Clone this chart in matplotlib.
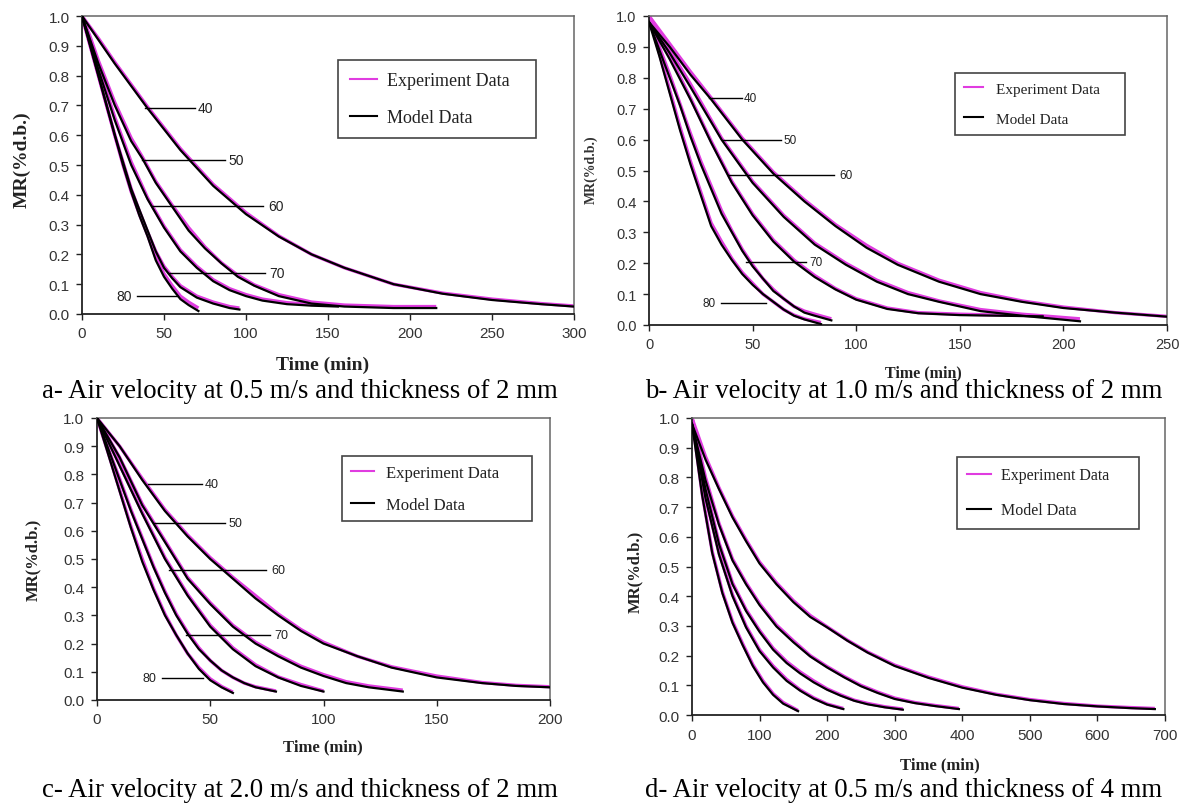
import numpy as np
import matplotlib
matplotlib.use('Agg')
import matplotlib.pyplot as plt
from matplotlib.lines import Line2D
from matplotlib.ticker import FormatStrFormatter

W, H = 1185, 804
SERIF = 'Liberation Serif'
SANS = 'Liberation Sans'
PINK = '#e03ce0'

temps = ['40', '50', '60', '70', '80']

# ---- panel a : 0.5 m/s, 2 mm ----
a_time_40 = [0, 10, 20, 40, 60, 80, 100, 120, 140, 160, 190, 220, 250, 280, 300]
a_model_40 = [1.0, 0.92, 0.84, 0.69, 0.55, 0.43, 0.335, 0.26, 0.2, 0.155, 0.1, 0.068, 0.047, 0.033, 0.025]
a_exp_40 = [1.0, 0.925, 0.845, 0.695, 0.555, 0.435, 0.34, 0.262, 0.2, 0.155, 0.1, 0.07, 0.05, 0.035, 0.027]
a_time_50 = [0, 5, 10, 20, 30, 37, 45, 55, 65, 75, 85, 95, 105, 120, 140, 160, 190, 216]
a_model_50 = [1.0, 0.92, 0.84, 0.7, 0.58, 0.52, 0.44, 0.36, 0.28, 0.22, 0.17, 0.125, 0.095, 0.06, 0.035, 0.025, 0.02, 0.02]
a_exp_50 = [1.0, 0.93, 0.85, 0.71, 0.59, 0.525, 0.445, 0.365, 0.29, 0.225, 0.172, 0.13, 0.098, 0.065, 0.04, 0.03, 0.025, 0.025]
a_time_60 = [0, 5, 10, 20, 30, 40, 50, 60, 70, 80, 90, 100, 110, 125, 140, 156]
a_model_60 = [1.0, 0.91, 0.82, 0.65, 0.5, 0.385, 0.29, 0.21, 0.155, 0.11, 0.08, 0.06, 0.045, 0.033, 0.028, 0.025]
a_exp_60 = [1.0, 0.92, 0.83, 0.66, 0.51, 0.39, 0.295, 0.215, 0.16, 0.115, 0.085, 0.065, 0.05, 0.038, 0.032, 0.03]
a_time_70 = [0, 5, 10, 15, 20, 25, 30, 35, 40, 45, 50, 55, 60, 70, 80, 90, 96]
a_model_70 = [1.0, 0.9, 0.8, 0.7, 0.6, 0.51, 0.42, 0.35, 0.28, 0.21, 0.155, 0.12, 0.09, 0.055, 0.035, 0.02, 0.015]
a_exp_70 = [1.0, 0.9, 0.8, 0.7, 0.6, 0.51, 0.42, 0.345, 0.275, 0.21, 0.16, 0.125, 0.095, 0.06, 0.04, 0.025, 0.02]
a_time_80 = [0, 5, 10, 15, 20, 25, 30, 35, 40, 45, 50, 55, 60, 65, 71]
a_model_80 = [1.0, 0.9, 0.8, 0.7, 0.6, 0.5, 0.41, 0.33, 0.26, 0.18, 0.125, 0.085, 0.05, 0.03, 0.01]
a_exp_80 = [1.0, 0.9, 0.8, 0.7, 0.6, 0.5, 0.41, 0.335, 0.265, 0.19, 0.135, 0.095, 0.06, 0.04, 0.02]
a_lead_mr = [0.692, 0.518, 0.364, 0.137, 0.059]
a_lead_t0 = [38.5, 36.4, 42.5, 52.6, 33.4]
a_lead_t1 = [68.8, 87, 110.3, 111.3, 57.7]

# ---- panel b : 1.0 m/s, 2 mm ----
b_time_40 = [0, 10, 20, 30, 45, 60, 75, 90, 105, 120, 140, 160, 180, 200, 225, 250]
b_model_40 = [0.98, 0.9, 0.81, 0.73, 0.6, 0.49, 0.4, 0.32, 0.25, 0.195, 0.14, 0.1, 0.075, 0.055, 0.04, 0.027]
b_exp_40 = [1.0, 0.91, 0.82, 0.735, 0.605, 0.495, 0.405, 0.325, 0.258, 0.2, 0.145, 0.105, 0.078, 0.058, 0.04, 0.028]
b_time_50 = [0, 10, 20, 35, 50, 65, 80, 95, 110, 125, 140, 160, 180, 208]
b_model_50 = [0.98, 0.88, 0.77, 0.6, 0.46, 0.35, 0.26, 0.195, 0.14, 0.1, 0.075, 0.045, 0.03, 0.012]
b_exp_50 = [1.0, 0.89, 0.78, 0.605, 0.465, 0.355, 0.265, 0.2, 0.145, 0.105, 0.078, 0.05, 0.035, 0.02]
b_time_60 = [0, 10, 20, 30, 40, 50, 60, 70, 80, 90, 100, 115, 130, 150, 170, 190]
b_model_60 = [0.98, 0.86, 0.73, 0.59, 0.46, 0.355, 0.27, 0.205, 0.155, 0.115, 0.082, 0.052, 0.038, 0.032, 0.03, 0.028]
b_exp_60 = [1.0, 0.87, 0.735, 0.595, 0.465, 0.36, 0.275, 0.21, 0.16, 0.118, 0.085, 0.055, 0.04, 0.035, 0.032, 0.03]
b_time_70 = [0, 5, 10, 15, 20, 25, 30, 35, 40, 45, 50, 55, 60, 65, 70, 75, 80, 88]
b_model_70 = [0.98, 0.89, 0.8, 0.71, 0.61, 0.52, 0.44, 0.36, 0.3, 0.24, 0.19, 0.15, 0.11, 0.085, 0.06, 0.04, 0.03, 0.015]
b_exp_70 = [1.0, 0.9, 0.81, 0.715, 0.62, 0.53, 0.45, 0.37, 0.305, 0.245, 0.195, 0.15, 0.115, 0.085, 0.06, 0.045, 0.035, 0.02]
b_time_80 = [0, 5, 10, 15, 20, 25, 30, 35, 40, 45, 50, 55, 60, 65, 70, 75, 83]
b_model_80 = [0.98, 0.87, 0.75, 0.63, 0.52, 0.42, 0.32, 0.26, 0.21, 0.165, 0.13, 0.1, 0.075, 0.05, 0.03, 0.018, 0.003]
b_exp_80 = [1.0, 0.88, 0.76, 0.64, 0.53, 0.43, 0.33, 0.27, 0.215, 0.17, 0.135, 0.1, 0.075, 0.05, 0.032, 0.02, 0.008]
b_lead_mr = [0.734, 0.60, 0.484, 0.203, 0.07]
b_lead_t0 = [29, 35.5, 38, 46.8, 34.7]
b_lead_t1 = [45, 63.7, 89.5, 75.8, 56.5]

# ---- panel c : 2.0 m/s, 2 mm ----
c_time_40 = [0, 10, 20, 30, 40, 50, 60, 70, 80, 90, 100, 115, 130, 150, 170, 185, 200]
c_model_40 = [1.0, 0.9, 0.78, 0.67, 0.58, 0.5, 0.43, 0.36, 0.3, 0.245, 0.2, 0.155, 0.115, 0.08, 0.06, 0.05, 0.045]
c_exp_40 = [1.0, 0.9, 0.785, 0.675, 0.585, 0.505, 0.435, 0.37, 0.305, 0.25, 0.205, 0.155, 0.118, 0.085, 0.062, 0.052, 0.047]
c_time_50 = [0, 10, 20, 30, 40, 50, 60, 70, 80, 90, 100, 110, 120, 135]
c_model_50 = [1.0, 0.86, 0.69, 0.56, 0.43, 0.34, 0.26, 0.2, 0.155, 0.115, 0.085, 0.06, 0.045, 0.03]
c_exp_50 = [1.0, 0.86, 0.695, 0.565, 0.435, 0.345, 0.265, 0.205, 0.16, 0.12, 0.09, 0.065, 0.05, 0.035]
c_time_60 = [0, 10, 20, 30, 40, 50, 60, 70, 80, 90, 100]
c_model_60 = [1.0, 0.83, 0.66, 0.5, 0.37, 0.26, 0.18, 0.12, 0.08, 0.05, 0.03]
c_exp_60 = [1.0, 0.835, 0.665, 0.505, 0.375, 0.265, 0.185, 0.125, 0.082, 0.055, 0.032]
c_time_70 = [0, 5, 10, 15, 20, 25, 30, 35, 40, 45, 50, 55, 60, 65, 70, 79]
c_model_70 = [1.0, 0.89, 0.78, 0.67, 0.57, 0.47, 0.38, 0.3, 0.235, 0.18, 0.14, 0.105, 0.08, 0.06, 0.045, 0.03]
c_exp_70 = [1.0, 0.89, 0.785, 0.675, 0.575, 0.475, 0.385, 0.305, 0.24, 0.185, 0.14, 0.105, 0.08, 0.06, 0.047, 0.032]
c_time_80 = [0, 5, 10, 15, 20, 25, 30, 35, 40, 45, 50, 55, 60]
c_model_80 = [1.0, 0.87, 0.74, 0.61, 0.49, 0.39, 0.3, 0.23, 0.165, 0.11, 0.07, 0.045, 0.025]
c_exp_80 = [1.0, 0.875, 0.745, 0.615, 0.5, 0.395, 0.305, 0.23, 0.165, 0.115, 0.075, 0.048, 0.028]
c_lead_mr = [0.766, 0.626, 0.46, 0.229, 0.077]
c_lead_t0 = [22.7, 25.2, 31.9, 39.5, 28.6]
c_lead_t1 = [46.2, 56.3, 74.8, 76.5, 47]

# ---- panel d : 0.5 m/s, 4 mm ----
d_time_40 = [0, 20, 40, 60, 80, 100, 125, 150, 175, 200, 230, 260, 300, 350, 400, 450, 500, 550, 600, 650, 685]
d_model_40 = [0.98, 0.86, 0.76, 0.665, 0.585, 0.51, 0.44, 0.38, 0.33, 0.295, 0.25, 0.21, 0.165, 0.125, 0.092, 0.068, 0.05, 0.037, 0.029, 0.023, 0.02]
d_exp_40 = [1.0, 0.87, 0.765, 0.67, 0.59, 0.515, 0.445, 0.385, 0.335, 0.297, 0.252, 0.212, 0.168, 0.128, 0.095, 0.07, 0.052, 0.039, 0.03, 0.025, 0.022]
d_time_50 = [0, 20, 40, 60, 80, 100, 125, 150, 175, 200, 225, 250, 275, 300, 330, 360, 395]
d_model_50 = [0.98, 0.79, 0.64, 0.52, 0.44, 0.37, 0.298, 0.245, 0.197, 0.16, 0.127, 0.097, 0.074, 0.054, 0.04, 0.03, 0.02]
d_exp_50 = [1.0, 0.8, 0.645, 0.525, 0.445, 0.375, 0.303, 0.25, 0.2, 0.163, 0.13, 0.1, 0.077, 0.057, 0.042, 0.032, 0.022]
d_time_60 = [0, 20, 40, 60, 80, 100, 120, 140, 160, 180, 200, 220, 240, 260, 285, 312]
d_model_60 = [0.98, 0.76, 0.575, 0.44, 0.35, 0.28, 0.22, 0.175, 0.14, 0.11, 0.085, 0.065, 0.048, 0.036, 0.026, 0.018]
d_exp_60 = [1.0, 0.77, 0.58, 0.445, 0.355, 0.285, 0.225, 0.18, 0.145, 0.115, 0.088, 0.068, 0.05, 0.039, 0.028, 0.02]
d_time_70 = [0, 20, 40, 60, 80, 100, 120, 140, 160, 180, 200, 224]
d_model_70 = [0.98, 0.73, 0.54, 0.4, 0.295, 0.215, 0.16, 0.115, 0.082, 0.055, 0.035, 0.02]
d_exp_70 = [1.0, 0.735, 0.545, 0.405, 0.3, 0.22, 0.165, 0.12, 0.085, 0.058, 0.037, 0.022]
d_time_80 = [0, 15, 30, 45, 60, 75, 90, 105, 120, 135, 157]
d_model_80 = [0.98, 0.74, 0.545, 0.41, 0.31, 0.235, 0.165, 0.11, 0.068, 0.038, 0.013]
d_exp_80 = [1.0, 0.745, 0.55, 0.415, 0.315, 0.24, 0.17, 0.115, 0.072, 0.042, 0.015]

captions = ['a- Air velocity at 0.5 m/s and thickness of 2 mm',
            'b- Air velocity at 1.0 m/s and thickness of 2 mm',
            'c- Air velocity at 2.0 m/s and thickness of 2 mm',
            'd- Air velocity at 0.5 m/s and thickness of 4 mm']


def add_panel(fig, box, times, exps, models, xmax, xstep, tick_fs):
    x0, y0, x1, y1 = box
    ax = fig.add_axes([x0 / W, 1 - y1 / H, (x1 - x0) / W, (y1 - y0) / H])
    for t, e in zip(times, exps):
        ax.plot(t, e, color=PINK, lw=2.4, solid_capstyle='butt', zorder=2)
    for t, m in zip(times, models):
        ax.plot(t, m, color='black', lw=1.6, zorder=3)
    ax.set_xlim(0, xmax)
    ax.set_ylim(0, 1.0)
    ax.set_xticks(np.arange(0, xmax + 1, xstep))
    ax.set_yticks(np.arange(0, 1.01, 0.1))
    ax.yaxis.set_major_formatter(FormatStrFormatter('%.1f'))
    ax.tick_params(direction='out', length=4, width=1, colors='#222',
                   labelcolor='#333', labelsize=tick_fs, pad=5)
    for lab in ax.get_xticklabels() + ax.get_yticklabels():
        lab.set_family(SANS)
    for side in ['top', 'right']:
        ax.spines[side].set_color('#666')
        ax.spines[side].set_linewidth(1.1)
    for side in ['left', 'bottom']:
        ax.spines[side].set_color('#222')
        ax.spines[side].set_linewidth(1.3)
    return ax


def add_legend(ax, rect, fs, hl, htp, ls, bp):
    handles = [Line2D([], [], color=PINK, lw=1.5), Line2D([], [], color='black', lw=1.5)]
    leg = ax.legend(handles, ['Experiment Data', 'Model Data'], loc='upper left',
                    bbox_to_anchor=rect, mode='expand', borderaxespad=0,
                    prop={'family': SERIF, 'size': fs}, fancybox=False,
                    edgecolor='#444', framealpha=1, handlelength=hl,
                    handletextpad=htp, labelspacing=ls, borderpad=bp)
    leg.get_frame().set_linewidth(1.2)
    for txt in leg.get_texts():
        txt.set_color('#222')


def add_leaders(ax, mr, t0, t1, fs):
    for i, lab in enumerate(temps):
        ax.plot([t0[i], t1[i]], [mr[i], mr[i]], color='black', lw=1.0, zorder=4)
        if lab == '80':
            ax.text(t0[i] - (t1[i] - t0[i]) * 0.12, mr[i], lab, ha='right', va='center',
                    fontsize=fs, family=SANS, color='#222')
        else:
            ax.text(t1[i] + (t1[i] - t0[i]) * 0.05, mr[i], lab, ha='left', va='center',
                    fontsize=fs, family=SANS, color='#222')


fig = plt.figure(figsize=(W / 100, H / 100), dpi=100)

ax_a = add_panel(fig, (82, 17, 574, 315),
                 [a_time_40, a_time_50, a_time_60, a_time_70, a_time_80],
                 [a_exp_40, a_exp_50, a_exp_60, a_exp_70, a_exp_80],
                 [a_model_40, a_model_50, a_model_60, a_model_70, a_model_80], 300, 50, 11)
add_legend(ax_a, (0.52, 0.584, 0.403, 0.268), 13, 1.5, 0.55, 1.1, 0.67)
add_leaders(ax_a, a_lead_mr, a_lead_t0, a_lead_t1, 10)

ax_b = add_panel(fig, (649, 17, 1167, 326),
                 [b_time_40, b_time_50, b_time_60, b_time_70, b_time_80],
                 [b_exp_40, b_exp_50, b_exp_60, b_exp_70, b_exp_80],
                 [b_model_40, b_model_50, b_model_60, b_model_70, b_model_80], 250, 50, 10.5)
add_legend(ax_b, (0.59, 0.605, 0.329, 0.211), 11, 1.3, 0.8, 1.07, 0.59)
add_leaders(ax_b, b_lead_mr, b_lead_t0, b_lead_t1, 8.5)

ax_c = add_panel(fig, (97, 419, 550, 701),
                 [c_time_40, c_time_50, c_time_60, c_time_70, c_time_80],
                 [c_exp_40, c_exp_50, c_exp_60, c_exp_70, c_exp_80],
                 [c_model_40, c_model_50, c_model_60, c_model_70, c_model_80], 200, 50, 11)
add_legend(ax_c, (0.541, 0.628, 0.419, 0.237), 12, 1.4, 0.75, 0.98, 0.51)
add_leaders(ax_c, c_lead_mr, c_lead_t0, c_lead_t1, 9)

ax_d = add_panel(fig, (692, 419, 1165, 716),
                 [d_time_40, d_time_50, d_time_60, d_time_70, d_time_80],
                 [d_exp_40, d_exp_50, d_exp_60, d_exp_70, d_exp_80],
                 [d_model_40, d_model_50, d_model_60, d_model_70, d_model_80], 700, 100, 11)
add_legend(ax_d, (0.56, 0.626, 0.385, 0.243), 11.5, 1.45, 0.68, 1.19, 0.66)


def ftext(x, y, s, **kw):
    fig.text(x / W, 1 - y / H, s, **kw)


# axis titles
ftext(323, 365, 'Time (min)', ha='center', va='center', family=SERIF, weight='bold', fontsize=14, color='#222')
ftext(923, 373, 'Time (min)', ha='center', va='center', family=SERIF, weight='bold', fontsize=11.5, color='#222')
ftext(323, 747, 'Time (min)', ha='center', va='center', family=SERIF, weight='bold', fontsize=12, color='#222')
ftext(940, 765, 'Time (min)', ha='center', va='center', family=SERIF, weight='bold', fontsize=12, color='#222')
ftext(22, 160, 'MR(%d.b.)', ha='center', va='center', rotation=90, family=SERIF, weight='bold', fontsize=14, color='#222')
ftext(591, 170, 'MR(%d.b.)', ha='center', va='center', rotation=90, family=SERIF, weight='bold', fontsize=10, color='#333')
ftext(33, 560, 'MR(%d.b.)', ha='center', va='center', rotation=90, family=SERIF, weight='bold', fontsize=12, color='#222')
ftext(635, 572, 'MR(%d.b.)', ha='center', va='center', rotation=90, family=SERIF, weight='bold', fontsize=12, color='#222')

# captions
ftext(300, 392, captions[0], ha='center', va='center', family=SERIF, fontsize=19.3)
ftext(904, 392, captions[1], ha='center', va='center', family=SERIF, fontsize=19.3)
ftext(300, 791, captions[2], ha='center', va='center', family=SERIF, fontsize=19.3)
ftext(904, 791, captions[3], ha='center', va='center', family=SERIF, fontsize=19.3)

fig.savefig('out.png', dpi=100)
